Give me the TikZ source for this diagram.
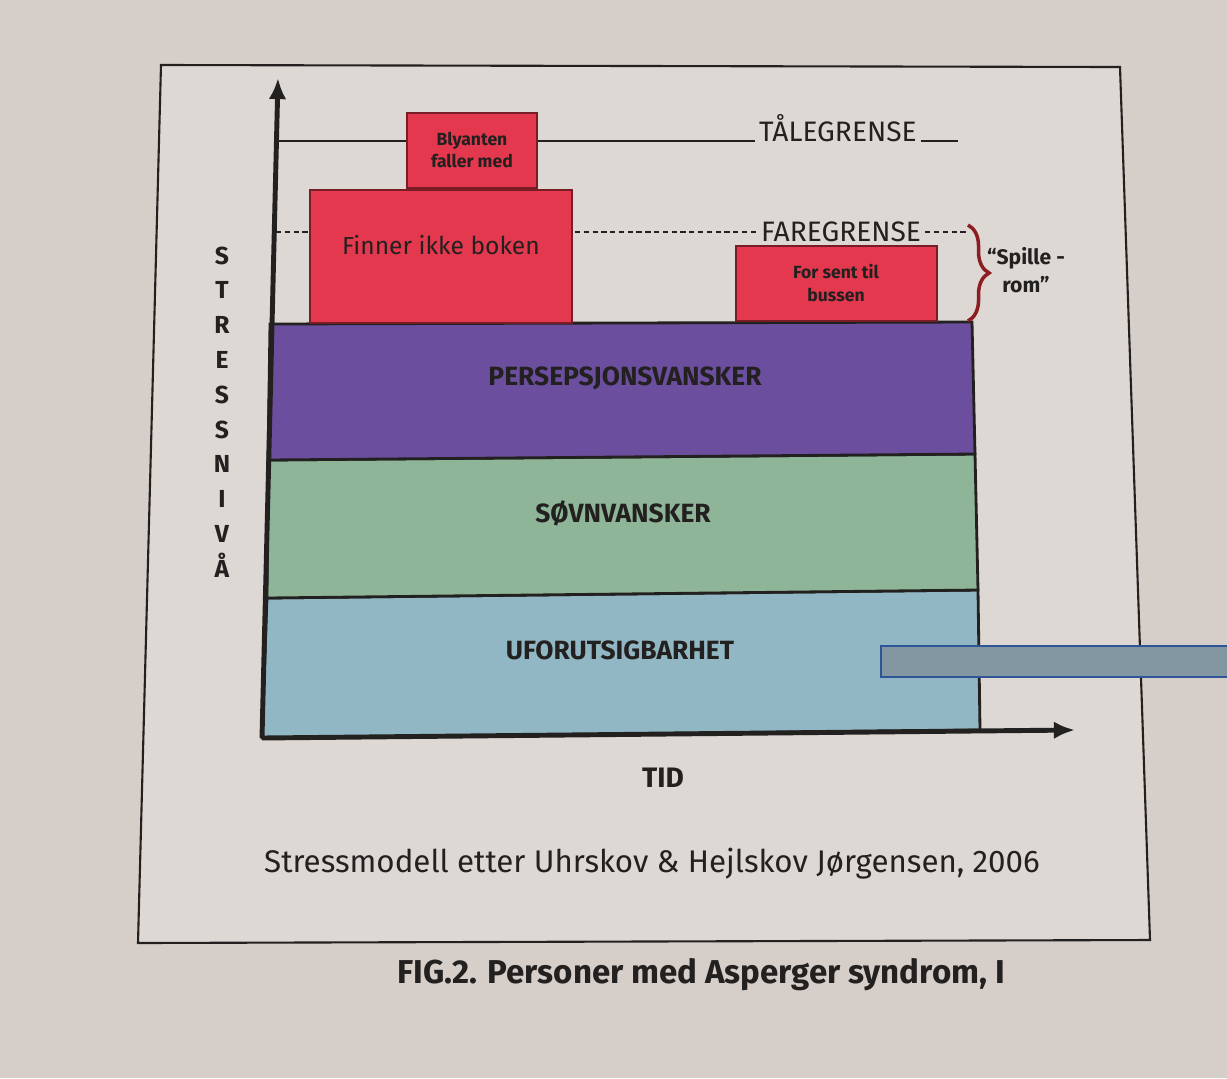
\documentclass[tikz,border=0pt]{standalone}
\usepackage{fontspec}
\setmainfont{Fira Sans}
\usetikzlibrary{arrows.meta,decorations.pathreplacing}

\definecolor{paper}{RGB}{214,206,200}
\definecolor{sheet}{RGB}{222,216,212}
\definecolor{stressred}{RGB}{228,56,78}
\definecolor{boxedge}{RGB}{120,28,38}
\definecolor{perscol}{RGB}{108,78,158}
\definecolor{sovncol}{RGB}{143,181,153}
\definecolor{ufocol}{RGB}{146,183,196}
\definecolor{bracecol}{RGB}{140,30,35}
\definecolor{stickfill}{RGB}{131,151,162}
\definecolor{stickedge}{RGB}{47,85,151}
\definecolor{ink}{RGB}{35,32,32}

\tikzset{
  redbox/.style={fill=stressred, draw=boxedge, line width=0.5pt},
  band/.style={draw=ink, line width=0.8pt},
  bandtext/.style={font=\fontsize{7.5}{9}\selectfont\bfseries, text=ink},
  limittext/.style={font=\fontsize{8}{9}\selectfont, text=ink, inner sep=1pt},
  smalltext/.style={font=\fontsize{5}{6.5}\selectfont\bfseries, align=center, text=ink},
  limitline/.style={line width=0.7pt, ink},
}

\begin{document}
\begin{tikzpicture}[x=0.01cm, y=-0.01cm]
	\useasboundingbox (0,0) rectangle (1227,1078);

		% Paper and the frame round the model
		\fill[paper] (0,0) rectangle (1227,1078);
		\coordinate (f1) at (161,65);
		\coordinate (f2) at (1120,67);
		\coordinate (f3) at (1150,940);
		\coordinate (f4) at (138,943);
		\fill[sheet] (f1) -- (f2) -- (f3) -- (f4) -- cycle;
		\draw[line width=0.6pt, ink] (f1) -- (f2) -- (f3) -- (f4) -- cycle;

		% Three bands of stress at the bottom
		\draw[band, fill=ufocol] (267,598) -- (978,590) -- (980,730) -- (262,738) -- cycle;
		\draw[band, fill=sovncol] (268,460) -- (975,454) -- (978,590) -- (267,598) -- cycle;
		\draw[band, fill=perscol] (270,324) -- (972,322) -- (975,454) -- (268,460) -- cycle;
		\node[bandtext] (pers) at (625,378) {PERSEPSJONSVANSKER};
		\node[bandtext] (sovn) at (623,513) {SØVNVANSKER};
		\node[bandtext] (ufo) at (620,650) {UFORUTSIGBARHET};

		% Tolerance limit
		\coordinate (taleaxis) at (279,141);
		\node[limittext, anchor=base west] (tale) at (755,141) {TÅLEGRENSE};
		\coordinate (taleend) at (958,141);
		\draw[limitline] (taleaxis) -- (tale.base west);
		\draw[limitline] (tale.base east) -- (taleend);

		% Danger limit
		\coordinate (fareaxis) at (276,232);
		\node[limittext, anchor=west] (fare) at (757,232) {FAREGRENSE};
		\coordinate (fareend) at (966,232);
		\coordinate (bracetop) at (968,225);
		\coordinate (bracebot) at (968,321);
		\draw[limitline, dash pattern=on 1.5pt off 1pt] (fareaxis) -- (fare.west);
		\draw[limitline, dash pattern=on 1.5pt off 1pt] (fare.east) -- (fareend);

		% Red boxes of extra stress
		\draw[redbox] (310,190) rectangle (572,323);
		\draw[redbox] (407,113) rectangle (537,188);
		\draw[redbox] (736,246) rectangle (937,321);
		\node[font=\fontsize{7}{8}\selectfont, text=ink] (finner) at (441,245) {Finner ikke boken};
		\node[smalltext] (blyant) at (472,150) {Blyanten\\faller med};
		\node[smalltext] (buss) at (836,283) {For sent til\\bussen};

		% Brace for the margin
		\draw[bracecol, line width=1pt, decorate, decoration={brace, amplitude=6pt}] (bracetop) -- (bracebot);
		\node[smalltext, font=\fontsize{6}{8}\selectfont\bfseries] (spillerom) at (1026,270) {“Spille -\\rom”};

		% Axes
		\coordinate (origo) at (262,738);
		\coordinate (ytop) at (278,78);
		\coordinate (xend) at (1075,730);
		\draw[line width=1.4pt, ink, -{Latex[length=6pt, width=5pt]}] (origo) -- (ytop);
		\draw[line width=1.4pt, ink, -{Latex[length=6pt, width=5pt]}] (origo) -- (xend);
		\node[align=center, font=\fontsize{7}{9.9}\selectfont\bfseries, text=ink] (stressniva) at (222,412) {S\\T\\R\\E\\S\\S\\N\\I\\V\\Å};
		\node[font=\fontsize{8}{9}\selectfont\bfseries, text=ink] (tid) at (663,778) {TID};

		% Source and caption
		\node[font=\fontsize{8.9}{10}\selectfont, text=ink] (kilde) at (652,864) {Stressmodell etter Uhrskov \& Hejlskov Jørgensen, 2006};
		\node[font=\fontsize{9.4}{10}\selectfont\bfseries, text=ink] (figtekst) at (701,975) {FIG.2. Personer med Asperger syndrom, I};

		% Pasted box on top
		\draw[stickedge, fill=stickfill, line width=0.7pt] (881,646) rectangle (1240,677);
	\end{tikzpicture}
\end{document}
